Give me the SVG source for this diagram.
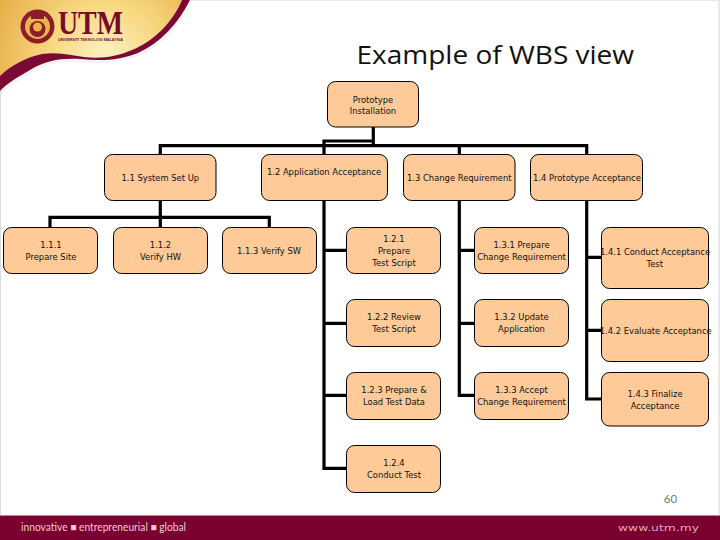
<svg xmlns="http://www.w3.org/2000/svg" width="720" height="540" viewBox="0 0 720 540">
<style>
.n{fill:#fdca98;stroke:#000;stroke-width:1}
.t{font-family:"DejaVu Sans",sans-serif;font-size:8.4px;fill:#111;text-anchor:middle}
.c{fill:none;stroke:#000;stroke-width:3.2}
</style>
<defs>
<radialGradient id="gold" gradientUnits="userSpaceOnUse" cx="105" cy="58" r="125">
<stop offset="0" stop-color="#fdf1c4"/><stop offset="0.45" stop-color="#f8d77f"/><stop offset="1" stop-color="#e4aa42"/>
</radialGradient>
</defs>
<rect width="720" height="540" fill="#fff"/>
<rect x="0" y="0" width="1" height="515" fill="#ddd"/>
<rect x="718.500" y="0" width="1.500" height="515" fill="#e4e4e4"/>
<rect x="190" y="0" width="530" height="1" fill="#e8e8e8"/>
<g id="banner">
<path d="M193 0C181 25 163 45 141 55C120 64 100 64 80 62C62 61 48 63 32 73C18 81 8 87 1 95V91H0V76L42 54L132 50L182 0Z" fill="#e9e9e9" opacity=".55"/>
<path d="M0 0H182C172 24 152 42 132 50C116 57 100 59 84 57C70 55 56 52 42 54C26 57 10 66 0 76Z" fill="url(#gold)"/>
<path d="M182 0H190C178 24 160 43 138 53C118 61 100 61 80 59C62 58 46 60 30 70C16 78 6 84 0 91V76C10 66 26 57 42 54C56 52 70 55 84 57C100 59 116 57 132 50C152 42 172 24 182 0Z" fill="#7a0a33"/>
<circle cx="37.500" cy="26.500" r="17" fill="#8a1c2c"/>
<circle cx="37.500" cy="26.500" r="12.500" fill="#eab44c"/>
<circle cx="37.500" cy="29" r="8" fill="#8a1c2c"/>
<circle cx="37.500" cy="27" r="4.500" fill="#eab44c"/>
<rect x="31" y="13" width="13" height="6" fill="#8a1c2c"/>
<text x="58" y="33.500" font-family="Liberation Serif,serif" font-weight="700" font-size="33" fill="#7a0a2c" textLength="65" lengthAdjust="spacingAndGlyphs">UTM</text>
<text x="58" y="40.500" font-family="Liberation Sans,sans-serif" font-weight="700" font-size="3.800" fill="#7a0a2c" textLength="65" lengthAdjust="spacingAndGlyphs">UNIVERSITI TEKNOLOGI MALAYSIA</text>
</g>
<text x="356.500" y="64" font-family="Open Sans,sans-serif" font-size="26" fill="#111" textLength="277.500" lengthAdjust="spacingAndGlyphs">Example of WBS view</text>
<g id="connectors" class="c">
<path d="M373.300 127V141H324V154M160.300 154V145.700H586.700V154M373.300 141V145.700M459.300 145.700V154"/>
<path d="M160.300 200V217.300M50 227V217.300H269.300V227M160.300 217.300V227"/>
<path d="M324 200V468.300H347M324 250.300H347M324 323.300H347M324 395.300H347"/>
<path d="M459.300 200V395.300H475M459.300 250.300H475M459.300 323.300H475"/>
<path d="M586.700 200V399H602M586.700 257.300H602M586.700 330.300H602"/>
</g>
<g id="n0"><rect class="n" x="327.500" y="81.500" width="91" height="45.500" rx="8"/><text class="t" x="373" y="102.500">Prototype</text><text class="t" x="373" y="114">Installation</text></g>
<g id="n1-1"><rect class="n" x="104.500" y="154.500" width="111.500" height="46" rx="8"/><text class="t" x="160.300" y="181">1.1 System Set Up</text></g>
<g id="n1-2"><rect class="n" x="261.500" y="154.500" width="126" height="46" rx="8"/><text class="t" x="324" y="175">1.2 Application Acceptance</text></g>
<g id="n1-3"><rect class="n" x="403.500" y="154.500" width="111.500" height="46" rx="8"/><text class="t" x="459.300" y="181">1.3 Change Requirement</text></g>
<g id="n1-4"><rect class="n" x="530.500" y="154.500" width="112" height="46" rx="8"/><text class="t" x="587" y="181">1.4 Prototype Acceptance</text></g>
<g id="n1-1-1"><rect class="n" x="3.500" y="227.500" width="94" height="46" rx="8"/><text class="t" x="51" y="248.300">1.1.1</text><text class="t" x="51" y="260">Prepare Site</text></g>
<g id="n1-1-2"><rect class="n" x="113.500" y="227.500" width="94" height="46" rx="8"/><text class="t" x="160.500" y="248.300">1.1.2</text><text class="t" x="160.500" y="260">Verify HW</text></g>
<g id="n1-1-3"><rect class="n" x="222.500" y="227.500" width="94" height="46" rx="8"/><text class="t" x="269" y="254">1.1.3 Verify SW</text></g>
<g id="n1-2-1"><rect class="n" x="346.500" y="227.500" width="94" height="46" rx="8"/><text class="t" x="394" y="242">1.2.1</text><text class="t" x="394" y="254">Prepare</text><text class="t" x="394" y="266">Test Script</text></g>
<g id="n1-2-2"><rect class="n" x="346.500" y="299.500" width="94" height="47" rx="8"/><text class="t" x="394" y="320">1.2.2 Review</text><text class="t" x="394" y="332">Test Script</text></g>
<g id="n1-2-3"><rect class="n" x="346.500" y="372.500" width="94" height="47" rx="8"/><text class="t" x="394" y="393">1.2.3 Prepare &amp;</text><text class="t" x="394" y="405">Load Test Data</text></g>
<g id="n1-2-4"><rect class="n" x="346.500" y="445.500" width="94" height="47" rx="8"/><text class="t" x="394" y="466">1.2.4</text><text class="t" x="394" y="478">Conduct Test</text></g>
<g id="n1-3-1"><rect class="n" x="474.500" y="227.500" width="94" height="46" rx="8"/><text class="t" x="521.500" y="248.300">1.3.1 Prepare</text><text class="t" x="521.500" y="260">Change Requirement</text></g>
<g id="n1-3-2"><rect class="n" x="474.500" y="299.500" width="94" height="47" rx="8"/><text class="t" x="521.500" y="320">1.3.2 Update</text><text class="t" x="521.500" y="332">Application</text></g>
<g id="n1-3-3"><rect class="n" x="474.500" y="372.500" width="94" height="47" rx="8"/><text class="t" x="521.500" y="393">1.3.3 Accept</text><text class="t" x="521.500" y="405">Change Requirement</text></g>
<g id="n1-4-1"><rect class="n" x="601.500" y="227.500" width="107" height="61" rx="8"/><text class="t" x="655" y="255">1.4.1 Conduct Acceptance</text><text class="t" x="654.700" y="267">Test</text></g>
<g id="n1-4-2"><rect class="n" x="601.500" y="299.500" width="107" height="62" rx="8"/><text class="t" x="655.700" y="334">1.4.2 Evaluate Acceptance</text></g>
<g id="n1-4-3"><rect class="n" x="601.500" y="372.500" width="107" height="53.500" rx="8"/><text class="t" x="655" y="397">1.4.3 Finalize</text><text class="t" x="655" y="409">Acceptance</text></g>
<text x="670.500" y="503" font-family="Lato,sans-serif" font-size="11.500" fill="#777" text-anchor="middle">60</text>
<g id="footer">
<rect x="0" y="515" width="720" height="25" fill="#7a0030"/>
<rect x="0" y="515" width="720" height="1" fill="#c77f9a"/>
<text x="21" y="531" font-family="Lato,sans-serif" font-size="10.500" fill="#f3c9d6" textLength="165" lengthAdjust="spacingAndGlyphs">innovative ■ entrepreneurial ■ global</text>
<text x="618" y="530.500" font-family="DejaVu Sans,sans-serif" font-size="9" fill="#e3a9bd" textLength="81" lengthAdjust="spacingAndGlyphs">www.utm.my</text>
</g>
</svg>
